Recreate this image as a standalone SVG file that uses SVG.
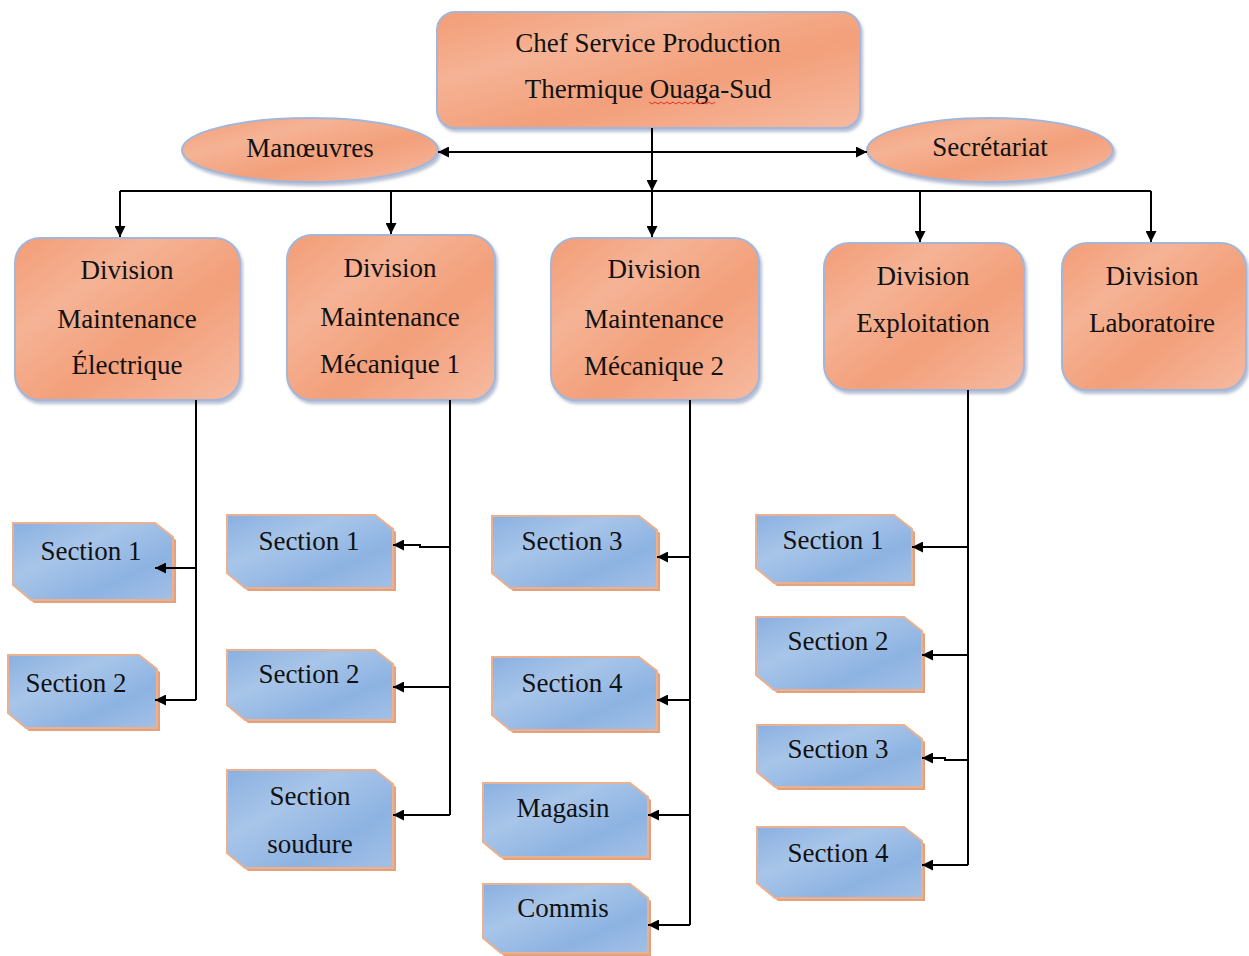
<svg xmlns="http://www.w3.org/2000/svg" width="1249" height="956" viewBox="0 0 1249 956">
<defs>
<linearGradient id="og" x1="0" y1="0" x2="1" y2="1">
<stop offset="0" stop-color="#F39C76"/>
<stop offset="0.3" stop-color="#F5B395"/>
<stop offset="0.6" stop-color="#F39F7A"/>
<stop offset="1" stop-color="#F6BAA0"/>
</linearGradient>
<linearGradient id="bg" x1="0" y1="0" x2="1" y2="1">
<stop offset="0" stop-color="#8AB0E0"/>
<stop offset="0.35" stop-color="#A8C5E9"/>
<stop offset="0.7" stop-color="#8DB3E2"/>
<stop offset="1" stop-color="#A2C0E6"/>
</linearGradient>
<filter id="sh" x="-10%" y="-10%" width="125%" height="130%">
<feDropShadow dx="2" dy="3" stdDeviation="1.5" flood-color="#7a8cb0" flood-opacity="0.55"/>
</filter>
<marker id="ah" viewBox="0 0 10 10" refX="10" refY="5" markerWidth="11" markerHeight="11" markerUnits="userSpaceOnUse" orient="auto">
<path d="M0,0 L10,5 L0,10 z" fill="#000"/>
</marker>
</defs>
<style>
text{font-family:'Liberation Serif','Times New Roman','DejaVu Serif',serif;font-size:27px;fill:#111;text-anchor:middle}
.ob{fill:url(#og);stroke:#A4B6D8;stroke-width:2;filter:url(#sh)}
.sb{fill:url(#bg);stroke:#EAB08F;stroke-width:2}
.ss{fill:#E3A27F}
.c{fill:none;stroke:#000;stroke-width:2}
.a{fill:none;stroke:#000;stroke-width:2;marker-end:url(#ah)}
</style>
<rect width="1249" height="956" fill="#fff"/>

<g id="chef">
<rect class="ob" x="437" y="12" width="423" height="116" rx="18"/>
<text x="648" y="52" font-family="Liberation Serif, serif">Chef Service Production</text>
<text x="648" y="98" font-family="Liberation Serif, serif">Thermique Ouaga-Sud</text>
<path d="M649 102 l3 2 l3 -2 l3 2 l3 -2 l3 2 l3 -2 l3 2 l3 -2 l3 2 l3 -2 l3 2 l3 -2 l3 2 l3 -2 l3 2 l3 -2 l3 2 l3 -2 l3 2 l3 -2 l3 2 l3 -2" fill="none" stroke="#e03030" stroke-width="1"/>
</g>

<g id="manoeuvres">
<ellipse class="ob" cx="310" cy="150" rx="128" ry="32"/>
<text x="310" y="157">Manœuvres</text>
</g>
<g id="secretariat">
<ellipse class="ob" cx="990" cy="150" rx="123" ry="32"/>
<text x="990" y="156">Secrétariat</text>
</g>

<g id="div-elec">
<rect class="ob" x="15" y="238" width="225" height="162" rx="25"/>
<text x="127" y="279">Division</text>
<text x="127" y="328">Maintenance</text>
<text x="127" y="374">Électrique</text>
</g>
<g id="div-meca1">
<rect class="ob" x="287" y="235" width="208" height="165" rx="25"/>
<text x="390" y="277">Division</text>
<text x="390" y="326">Maintenance</text>
<text x="390" y="373">Mécanique 1</text>
</g>
<g id="div-meca2">
<rect class="ob" x="551" y="238" width="208" height="162" rx="25"/>
<text x="654" y="278">Division</text>
<text x="654" y="328">Maintenance</text>
<text x="654" y="375">Mécanique 2</text>
</g>
<g id="div-exploit">
<rect class="ob" x="824" y="243" width="200" height="147" rx="25"/>
<text x="923" y="285">Division</text>
<text x="923" y="332">Exploitation</text>
</g>
<g id="div-labo">
<rect class="ob" x="1062" y="243" width="184" height="147" rx="25"/>
<text x="1152" y="285">Division</text>
<text x="1152" y="332">Laboratoire</text>
</g>

<g id="elec-s1">
<path class="ss" d="M16 526 H158 L176 540 V603 H34 L16 588 Z"/>
<path class="sb" d="M13 523 H155 L173 537 V600 H31 L13 585 Z"/>
<text x="91" y="560">Section 1</text>
</g>
<g id="elec-s2">
<path class="ss" d="M11 658 H142 L160 672 V731 H29 L11 716 Z"/>
<path class="sb" d="M8 655 H139 L157 669 V728 H26 L8 713 Z"/>
<text x="76" y="692">Section 2</text>
</g>

<g id="m1-s1">
<path class="ss" d="M230 518 H378 L396 532 V591 H248 L230 576 Z"/>
<path class="sb" d="M227 515 H375 L393 529 V588 H245 L227 573 Z"/>
<text x="309" y="550">Section 1</text>
</g>
<g id="m1-s2">
<path class="ss" d="M230 653 H378 L396 667 V723 H248 L230 708 Z"/>
<path class="sb" d="M227 650 H375 L393 664 V720 H245 L227 705 Z"/>
<text x="309" y="683">Section 2</text>
</g>
<g id="m1-soudure">
<path class="ss" d="M230 773 H378 L396 787 V871 H248 L230 856 Z"/>
<path class="sb" d="M227 770 H375 L393 784 V868 H245 L227 853 Z"/>
<text x="310" y="805">Section</text>
<text x="310" y="853">soudure</text>
</g>

<g id="m2-s3">
<path class="ss" d="M495 519 H642 L660 533 V591 H513 L495 576 Z"/>
<path class="sb" d="M492 516 H639 L657 530 V588 H510 L492 573 Z"/>
<text x="572" y="550">Section 3</text>
</g>
<g id="m2-s4">
<path class="ss" d="M495 660 H642 L660 674 V733 H513 L495 718 Z"/>
<path class="sb" d="M492 657 H639 L657 671 V730 H510 L492 715 Z"/>
<text x="572" y="692">Section 4</text>
</g>
<g id="m2-magasin">
<path class="ss" d="M486 786 H633 L651 800 V860 H504 L486 845 Z"/>
<path class="sb" d="M483 783 H630 L648 797 V857 H501 L483 842 Z"/>
<text x="563" y="817">Magasin</text>
</g>
<g id="m2-commis">
<path class="ss" d="M486 887 H633 L651 901 V956 H504 L486 941 Z"/>
<path class="sb" d="M483 884 H630 L648 898 V953 H501 L483 938 Z"/>
<text x="563" y="917">Commis</text>
</g>

<g id="ex-s1">
<path class="ss" d="M759 518 H897 L915 532 V586 H777 L759 571 Z"/>
<path class="sb" d="M756 515 H894 L912 529 V583 H774 L756 568 Z"/>
<text x="833" y="549">Section 1</text>
</g>
<g id="ex-s2">
<path class="ss" d="M759 620 H907 L925 634 V693 H777 L759 678 Z"/>
<path class="sb" d="M756 617 H904 L922 631 V690 H774 L756 675 Z"/>
<text x="838" y="650">Section 2</text>
</g>
<g id="ex-s3">
<path class="ss" d="M760 728 H907 L925 742 V790 H778 L760 775 Z"/>
<path class="sb" d="M757 725 H904 L922 739 V787 H775 L757 772 Z"/>
<text x="838" y="758">Section 3</text>
</g>
<g id="ex-s4">
<path class="ss" d="M760 830 H907 L925 844 V901 H778 L760 886 Z"/>
<path class="sb" d="M757 827 H904 L922 841 V898 H775 L757 883 Z"/>
<text x="838" y="862">Section 4</text>
</g>

<g id="connectors">
<path class="c" d="M652 128 V237"/>
<path class="a" d="M652 128 V191"/>
<path class="a" d="M652 152 H438"/>
<path class="a" d="M652 152 H867"/>
<path class="c" d="M120 191 H1151"/>
<path class="a" d="M120 191 V237"/>
<path class="a" d="M391 191 V234"/>
<path class="a" d="M652 191 V237"/>
<path class="a" d="M920 191 V242"/>
<path class="a" d="M1151 191 V242"/>
<path class="c" d="M196 400 V700"/>
<path class="a" d="M196 568 H155"/>
<path class="a" d="M196 700 H155"/>
<path class="c" d="M450 400 V815"/>
<path class="a" d="M450 547 H420 V545 H393"/>
<path class="a" d="M450 687 H393"/>
<path class="a" d="M450 815 H393"/>
<path class="c" d="M690 400 V925"/>
<path class="a" d="M690 557 H657"/>
<path class="a" d="M690 700 H657"/>
<path class="a" d="M690 815 H648"/>
<path class="a" d="M690 925 H648"/>
<path class="c" d="M968 390 V865"/>
<path class="a" d="M968 547 H912"/>
<path class="a" d="M968 655 H922"/>
<path class="a" d="M968 760 H945 V758 H922"/>
<path class="a" d="M968 865 H922"/>
</g>
</svg>
